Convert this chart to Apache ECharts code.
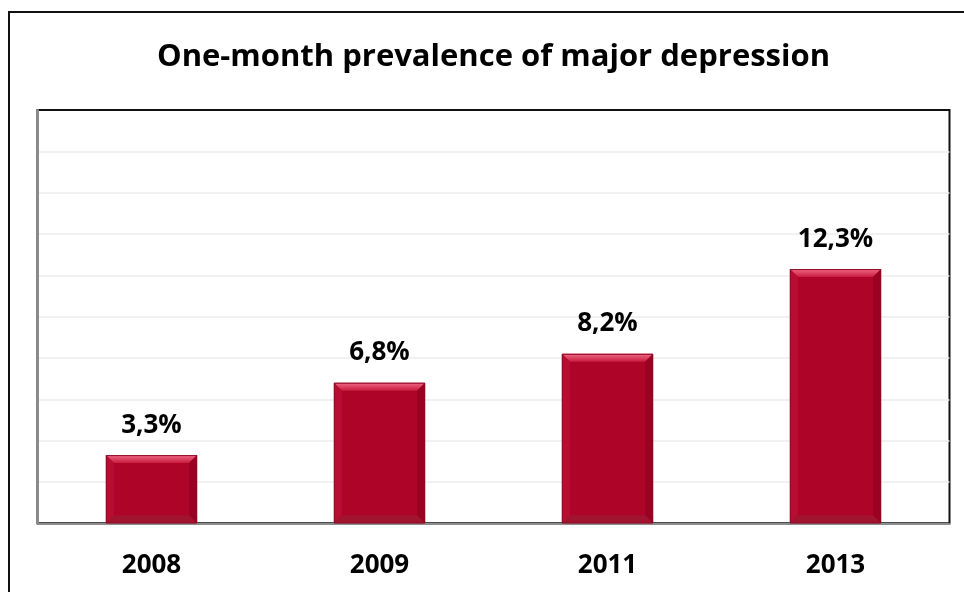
<!DOCTYPE html>
<html>
<head>
<meta charset="utf-8">
<script src="https://cdn.jsdelivr.net/npm/echarts@6/dist/echarts.min.js"></script>
<style>
html,body{margin:0;padding:0;background:#fff;}
#chart{width:964px;height:592px;}
</style>
</head>
<body>
<div id="chart"></div>
<script>
const titleText = 'One-month prevalence of major depression';
const categories = ['2008', '2009', '2011', '2013'];
const values = [3.3, 6.8, 8.2, 12.3];
const valueLabels = ['3,3%', '6,8%', '8,2%', '12,3%'];
const yMin = 0, yMax = 20, yInterval = 2;

const FONT = 'Open Sans';
const chart = echarts.init(document.getElementById('chart'));

function renderItem(params, api) {
  const idx = api.value(0);
  const v = api.value(1);
  const top = api.coord([idx, v]);
  const base = api.coord([idx, 0]);
  const bw = api.size([1, 0])[0] * 0.4;
  const x0 = top[0] - bw / 2, x1 = top[0] + bw / 2, y0 = top[1], y1 = base[1];
  const b = 8;
  return {
    type: 'group',
    children: [
      { type: 'rect', shape: { x: x0, y: y0, width: bw, height: y1 - y0 }, style: { fill: '#AD0428' } },
      { type: 'polygon', shape: { points: [[x0, y0], [x1, y0], [x1 - b, y0 + b], [x0 + b, y0 + b]] },
        style: { fill: new echarts.graphic.LinearGradient(0, 0, 0, 1, [{ offset: 0, color: '#F06A84' }, { offset: 1, color: '#C81A3E' }]) } },
      { type: 'polygon', shape: { points: [[x0, y0], [x0 + b, y0 + b], [x0 + b, y1 - b], [x0, y1]] }, style: { fill: '#B90C33' } },
      { type: 'polygon', shape: { points: [[x1, y0], [x1, y1], [x1 - b, y1 - b], [x1 - b, y0 + b]] }, style: { fill: '#9A0223' } },
      { type: 'polygon', shape: { points: [[x0, y1], [x0 + b, y1 - b], [x1 - b, y1 - b], [x1, y1]] }, style: { fill: '#A0142F' } },
      { type: 'rect', shape: { x: x0 + 0.5, y: y0 + 0.5, width: bw - 1, height: y1 - y0 - 1 }, style: { fill: 'none', stroke: '#8E0A26', lineWidth: 1 } },
      { type: 'text', x: top[0], y: y0 - 30,
        style: { text: valueLabels[idx], fontSize: 26, fontWeight: 'bold', fontFamily: FONT, fill: '#000', align: 'center', verticalAlign: 'middle' } }
    ]
  };
}

chart.setOption({
  animation: false,
  backgroundColor: '#fff',
  title: {
    text: titleText,
    left: 157,
    top: 42,
    padding: 0,
    textStyle: { fontSize: 31, fontWeight: 'bold', fontFamily: FONT, color: '#000' }
  },
  graphic: [
    { type: 'rect', shape: { x: 9, y: 12, width: 1000, height: 700 }, style: { fill: 'none', stroke: '#111', lineWidth: 2 }, z: 100 }
  ],
  grid: {
    left: 37.5, right: 14.5, top: 110, bottom: 68.7,
    show: true, borderColor: '#111', borderWidth: 2, backgroundColor: '#fff'
  },
  xAxis: {
    type: 'category',
    data: categories,
    axisLine: { lineStyle: { color: '#8c8c8c', width: 2 } },
    axisTick: { show: false },
    axisLabel: { fontSize: 26, fontWeight: 'bold', fontFamily: FONT, color: '#000', margin: 28, lineHeight: 28 }
  },
  yAxis: {
    type: 'value',
    min: yMin, max: yMax, interval: yInterval,
    axisLine: { show: true, lineStyle: { color: '#8c8c8c', width: 2 } },
    axisTick: { show: false },
    axisLabel: { show: false },
    splitLine: { showMaxLine: false, lineStyle: { color: '#ececec', width: 1.5 } }
  },
  series: [{
    type: 'custom',
    renderItem: renderItem,
    encode: { x: 0, y: 1 },
    data: values.map((v, i) => [i, v]),
    z: 3
  }]
});
</script>
</body>
</html>
